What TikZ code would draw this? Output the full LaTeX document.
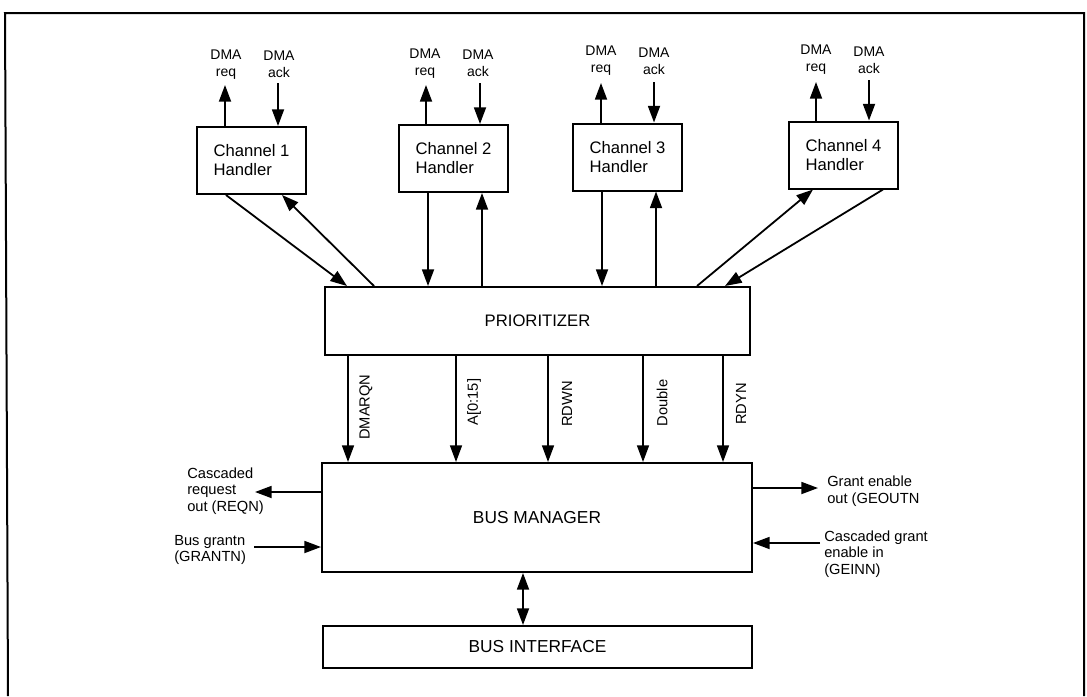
\documentclass[tikz,border=0pt]{standalone}
\usepackage{fontspec}
\setmainfont{Liberation Sans}
\usetikzlibrary{arrows.meta}
\begin{document}
\begin{tikzpicture}[x=0.75pt,y=-0.75pt,
  box/.style={draw, line width=1.5pt, inner sep=0pt, align=left},
  chbox/.style={box, minimum width=81.75pt, minimum height=50.25pt, font=\fontsize{12.5}{14.25}\selectfont},
  arr/.style={line width=1.35pt, -{Triangle[length=12.5pt,width=9pt]}},
  sarr/.style={line width=1.15pt, -{Triangle[length=12.5pt,width=9pt]}},
  dma/.style={inner sep=0pt, align=center, font=\fontsize{10.5}{12.75}\selectfont},
  side/.style={inner sep=0pt, align=left, anchor=west, font=\fontsize{11}{12.4}\selectfont},
  sig/.style={inner sep=0pt, rotate=90, font=\fontsize{11}{13}\selectfont},
  frame/.style={line width=1.5pt}]
\useasboundingbox (0,0) rectangle (1087,696);
% frame
\draw[frame] (8,696) -- (5,13) -- (1084,13) -- (1084,696);

% channel handlers
\node[chbox] (ch1) at (251.5,160.5) {Channel 1\\Handler};
\node[chbox] (ch2) at (453.5,158.5) {Channel 2\\Handler};
\node[chbox] (ch3) at (627.5,157) {Channel 3\\Handler};
\node[chbox] (ch4) at (843.5,155) {Channel 4\\Handler};

% main boxes
\node[box, minimum width=318.75pt, minimum height=51pt, font=\fontsize{12.5}{15}\selectfont] (prio) at (537.5,321) {PRIORITIZER};
\node[box, minimum width=322.5pt, minimum height=81.75pt, font=\fontsize{13}{15}\selectfont] (bm) at (537,517.5) {BUS MANAGER};
\node[box, minimum width=321.75pt, minimum height=31.5pt, font=\fontsize{13}{15}\selectfont] (bi) at (537.5,647) {BUS INTERFACE};

% DMA labels
\node[dma] (rq1) at (226,64.5) {DMA\\req};
\node[dma] (ak1) at (279,64.5) {DMA\\ack};
\node[dma] (rq2) at (425,63.5) {DMA\\req};
\node[dma] (ak2) at (478,63.5) {DMA\\ack};
\node[dma] (rq3) at (601,61) {DMA\\req};
\node[dma] (ak3) at (654,61) {DMA\\ack};
\node[dma] (rq4) at (816,60) {DMA\\req};
\node[dma] (ak4) at (869,60) {DMA\\ack};

% DMA arrow ends
\coordinate (r1) at (225,85);  \coordinate (a1) at (278,83);
\coordinate (r2) at (426,85);  \coordinate (a2) at (480,83);
\coordinate (r3) at (601,83);  \coordinate (a3) at (654,82);
\coordinate (r4) at (816,82);  \coordinate (a4) at (869,80);
\draw[arr] (ch1.north -| r1) -- (r1);
\draw[arr] (a1) -- (ch1.north -| a1);
\draw[arr] (ch2.north -| r2) -- (r2);
\draw[arr] (a2) -- (ch2.north -| a2);
\draw[arr] (ch3.north -| r3) -- (r3);
\draw[arr] (a3) -- (ch3.north -| a3);
\draw[arr] (ch4.north -| r4) -- (r4);
\draw[arr] (a4) -- (ch4.north -| a4);

% channel <-> prioritizer
\coordinate (d1a) at (226,0); \coordinate (d1b) at (347,0);
\coordinate (d1c) at (374,0); \coordinate (d1d) at (282,0);
\draw[arr] (ch1.south -| d1a) -- (prio.north -| d1b);
\draw[arr] (prio.north -| d1c) -- (ch1.south -| d1d);
\coordinate (v2a) at (428,0); \coordinate (v2b) at (482,0);
\draw[arr] (ch2.south -| v2a) -- (prio.north -| v2a);
\draw[arr] (prio.north -| v2b) -- (ch2.south -| v2b);
\coordinate (v3a) at (602,0); \coordinate (v3b) at (656,0);
\draw[arr] (ch3.south -| v3a) -- (prio.north -| v3a);
\draw[arr] (prio.north -| v3b) -- (ch3.south -| v3b);
\coordinate (d4a) at (697,0); \coordinate (d4b) at (813,0);
\coordinate (d4c) at (883,0); \coordinate (d4d) at (725,0);
\draw[arr] (prio.north -| d4a) -- (ch4.south -| d4b);
\draw[arr] (ch4.south -| d4c) -- (prio.north -| d4d);

% prioritizer -> bus manager signals
\coordinate (s1) at (348,0); \coordinate (s2) at (456,0);
\coordinate (s3) at (548,0); \coordinate (s4) at (643,0);
\coordinate (s5) at (723,0);
\draw[sarr] (prio.south -| s1) -- (bm.north -| s1);
\draw[sarr] (prio.south -| s2) -- (bm.north -| s2);
\draw[sarr] (prio.south -| s3) -- (bm.north -| s3);
\draw[sarr] (prio.south -| s4) -- (bm.north -| s4);
\draw[sarr] (prio.south -| s5) -- (bm.north -| s5);
\node[sig] (l1) at (366,407) {DMARQN};
\node[sig] (l2) at (474,402) {A[0:15]};
\node[sig] (l3) at (567,404) {RDWN};
\node[sig] (l4) at (662,403) {Double};
\node[sig] (l5) at (741,404) {RDYN};

% side signals
\coordinate (reqn) at (255,492);
\coordinate (grantn) at (254,547);
\coordinate (geoutn) at (818,488);
\coordinate (geinn) at (820,543);
\draw[arr] (bm.west |- reqn) -- (reqn);
\draw[arr] (grantn) -- (bm.west |- grantn);
\draw[arr] (bm.east |- geoutn) -- (geoutn);
\draw[arr] (geinn) -- (bm.east |- geinn);
\node[side] (t1) at (187,491) {Cascaded\\request\\out (REQN)};
\node[side] (t2) at (174,550) {Bus grantn\\(GRANTN)};
\node[side] (t3) at (827,491) {Grant enable\\out (GEOUTN};
\node[side] (t4) at (824,554) {Cascaded grant\\enable in\\(GEINN)};

% bus manager <-> bus interface
\coordinate (bx) at (523,0);
\draw[line width=1.35pt, {Triangle[length=12.5pt,width=9pt]}-{Triangle[length=12.5pt,width=9pt]}] (bm.south -| bx) -- (bi.north -| bx);
\end{tikzpicture}
\end{document}
